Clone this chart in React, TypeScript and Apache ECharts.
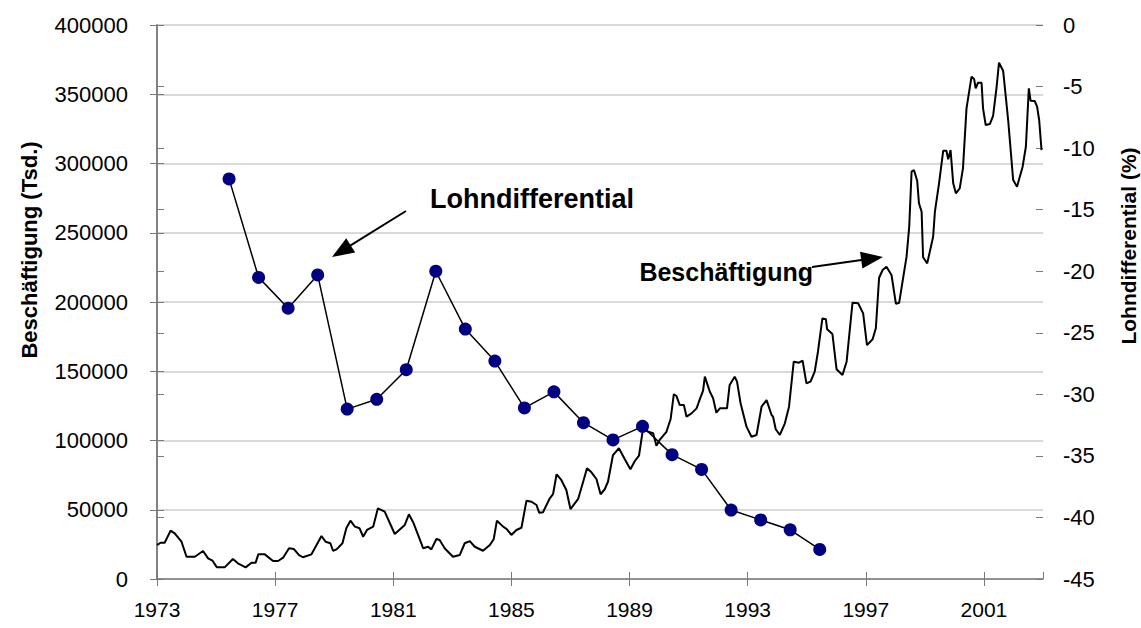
import React, { useEffect, useRef } from "react";
import * as echarts from "echarts";

const START_YEAR = 1973;
const END_YEAR = 2003;

// Beschäftigung (Tsd.) (decimal year, value)
const empYear = [
  1973.0, 1973.12, 1973.26, 1973.46, 1973.6, 1973.83, 1974.0, 1974.28, 1974.56, 1974.73,
  1974.88, 1975.03, 1975.29, 1975.57, 1975.74, 1976.0, 1976.2, 1976.34, 1976.43, 1976.65,
  1976.93, 1977.1, 1977.27, 1977.47, 1977.63, 1977.81, 1977.94, 1978.23, 1978.57, 1978.71,
  1978.87, 1978.96, 1979.08, 1979.28, 1979.41, 1979.55, 1979.7, 1979.86, 1979.98, 1980.11,
  1980.32, 1980.48, 1980.71, 1981.05, 1981.39, 1981.53, 1981.69, 1981.95, 1982.01, 1982.18,
  1982.29, 1982.46, 1982.57, 1982.74, 1983.02, 1983.25, 1983.42, 1983.59, 1983.76, 1984.04,
  1984.27, 1984.4, 1984.51, 1984.72, 1984.85, 1985.0, 1985.17, 1985.34, 1985.51, 1985.68,
  1985.85, 1985.94, 1986.07, 1986.3, 1986.41, 1986.53, 1986.69, 1986.86, 1987.0, 1987.26,
  1987.43, 1987.56, 1987.71, 1987.88, 1988.02, 1988.16, 1988.27, 1988.44, 1988.64, 1988.84,
  1989.03, 1989.18, 1989.32, 1989.4, 1989.46, 1989.63, 1989.8, 1989.91, 1990.02, 1990.25,
  1990.39, 1990.5, 1990.59, 1990.7, 1990.84, 1990.93, 1991.1, 1991.27, 1991.35, 1991.49,
  1991.55, 1991.72, 1991.83, 1991.94, 1992.06, 1992.3, 1992.39, 1992.56, 1992.64, 1992.76,
  1992.96, 1993.13, 1993.3, 1993.47, 1993.64, 1993.81, 1993.86, 1993.95, 1994.09, 1994.26,
  1994.4, 1994.56, 1994.74, 1994.86, 1994.99, 1995.13, 1995.27, 1995.38, 1995.53, 1995.65,
  1995.69, 1995.87, 1996.01, 1996.21, 1996.35, 1996.55, 1996.74, 1996.91, 1997.04, 1997.23,
  1997.34, 1997.45, 1997.57, 1997.7, 1997.87, 1998.02, 1998.13, 1998.38, 1998.47, 1998.55,
  1998.63, 1998.74, 1998.8, 1998.89, 1998.94, 1999.08, 1999.28, 1999.34, 1999.48, 1999.62,
  1999.73, 1999.79, 1999.87, 1999.96, 2000.05, 2000.18, 2000.29, 2000.41, 2000.58, 2000.67,
  2000.72, 2000.8, 2000.92, 2000.97, 2001.06, 2001.2, 2001.31, 2001.43, 2001.51, 2001.65,
  2001.82, 2001.99, 2002.12, 2002.31, 2002.42, 2002.52, 2002.58, 2002.72, 2002.8, 2002.87,
  2002.95,
];
const empValue = [
  24500, 26200, 26200, 34900, 33000, 26900, 16100, 16100, 20200, 14900,
  13200, 8400, 8400, 14400, 11300, 8400, 11800, 11800, 17800, 17800,
  13000, 13000, 15400, 22200, 21700, 17300, 15700, 17800, 31000, 26900,
  25800, 20400, 21400, 25800, 36600, 42100, 37800, 36600, 30500, 35400,
  37800, 51000, 48600, 32500, 39000, 46700, 40200, 25800, 22200, 23300,
  21400, 28900, 28200, 22200, 16100, 17300, 25800, 27400, 23300, 20400,
  24500, 28700, 42100, 37800, 35900, 31800, 35400, 37000, 56500, 55800,
  53400, 47900, 48200, 58300, 61200, 75600, 71500, 64300, 50500, 57800,
  70200, 79900, 77000, 72200, 61200, 64800, 70200, 89500, 94400, 86400,
  79200, 85200, 89000, 100400, 108800, 106300, 105200, 96200, 100400, 106300,
  115300, 133400, 132100, 125600, 125600, 117200, 119600, 123200, 128000, 136000,
  146100, 135200, 130500, 120100, 123200, 123200, 140100, 146100, 142500, 126900,
  110000, 102700, 104000, 124400, 129200, 118400, 117200, 108100, 104000, 112400,
  124400, 156900, 156200, 157600, 141300, 142500, 149700, 164100, 188200, 187500,
  180300, 176900, 151400, 147300, 156900, 199500, 199100, 191800, 168900, 173100,
  181000, 217500, 223100, 225500, 219500, 198600, 199500, 232700, 254400, 294100,
  295300, 287600, 271300, 265200, 232300, 227900, 247100, 265200, 285700, 309200,
  309200, 303000, 309700, 285700, 278500, 282100, 296500, 339800, 362700, 360800,
  354300, 358300, 358300, 339800, 327800, 328500, 334300, 355400, 372800, 367000,
  331400, 288100, 283200, 297700, 312100, 354300, 345300, 345100, 341000, 331400,
  309700,
];

// Lohndifferential (%), annual values
const wageYear = [
  1975, 1976, 1977, 1978, 1979, 1980, 1981, 1982, 1983, 1984, 1985,
  1986, 1987, 1988, 1989, 1990, 1991, 1992, 1993, 1994, 1995,
];
const wageValue = [
  -12.5, -20.5, -23.0, -20.3, -31.2, -30.4, -28.0, -20.0, -24.7, -27.3, -31.1,
  -29.8, -32.3, -33.7, -32.6, -34.9, -36.1, -39.4, -40.2, -41.0, -42.6,
];
const WAGE_IN_YEAR = 0.44; // annual values sit mid-year on the monthly axis

const FONT = "'Liberation Sans', Arial, sans-serif";
const AXIS_COLOR = "#7a7a7a";

function arrow(x1: number, y1: number, x2: number, y2: number) {
  const L = 22;
  const W = 8.5;
  const dx = x2 - x1;
  const dy = y2 - y1;
  const len = Math.sqrt(dx * dx + dy * dy);
  const ux = dx / len;
  const uy = dy / len;
  const bx = x2 - ux * L;
  const by = y2 - uy * L;
  const px = -uy;
  const py = ux;
  return [
    {
      type: "line",
      shape: { x1, y1, x2: bx + ux * 2, y2: by + uy * 2 },
      style: { stroke: "#000", lineWidth: 2 },
      z: 10,
    },
    {
      type: "polygon",
      shape: {
        points: [
          [x2, y2],
          [bx + px * W, by + py * W],
          [bx - px * W, by - py * W],
        ],
      },
      style: { fill: "#000" },
      z: 10,
    },
  ];
}

export default function App() {
  const ref = useRef<HTMLDivElement>(null);

  useEffect(() => {
    if (!ref.current) return;
    const chart = echarts.init(ref.current, undefined, { renderer: "svg" });

    const empData = empYear.map((y, i) => [y - START_YEAR, empValue[i]]);
    const wageData = wageYear.map((y, i) => [y - START_YEAR + WAGE_IN_YEAR, wageValue[i]]);
    const span = END_YEAR - START_YEAR;

    const option: any = {
      animation: false,
      backgroundColor: "#fff",
      grid: { left: 157, right: 98, top: 25, bottom: 49, containLabel: false },
      xAxis: [
        {
          type: "value",
          min: 0,
          max: span,
          interval: 4,
          position: "bottom",
          axisLine: { show: true, onZero: false, lineStyle: { color: AXIS_COLOR, width: 1.5 } },
          axisTick: { show: true, length: 7, lineStyle: { color: AXIS_COLOR, width: 1 } },
          axisLabel: {
            formatter: (v: number) => String(START_YEAR + v),
            showMaxLabel: false,
            margin: 20,
            fontSize: 21,
            color: "#000",
            fontFamily: FONT,
          },
          splitLine: { show: false },
        },
        {
          type: "value",
          min: 0,
          max: span,
          interval: 4,
          position: "bottom",
          axisLine: { show: false, onZero: false },
          axisTick: { show: true, inside: true, length: 7, lineStyle: { color: AXIS_COLOR, width: 1 } },
          axisLabel: { show: false },
          splitLine: { show: false },
        },
      ],
      yAxis: [
        {
          type: "value",
          position: "left",
          min: 0,
          max: 400000,
          interval: 50000,
          axisLine: { show: true, lineStyle: { color: AXIS_COLOR, width: 1.5 } },
          axisTick: { show: true, length: 7, lineStyle: { color: AXIS_COLOR, width: 1 } },
          axisLabel: {
            margin: 29,
            fontSize: 22,
            color: "#000",
            fontFamily: FONT,
            formatter: (v: number) => String(v),
          },
          splitLine: { show: true, lineStyle: { color: "#d9d9d9", width: 2 } },
        },
        {
          type: "value",
          position: "right",
          min: -45,
          max: 0,
          interval: 5,
          axisLine: { show: true, lineStyle: { color: AXIS_COLOR, width: 1.5 } },
          axisTick: { show: true, length: 7, lineStyle: { color: AXIS_COLOR, width: 1 } },
          axisLabel: {
            margin: 20,
            fontSize: 22,
            color: "#000",
            fontFamily: FONT,
            formatter: (v: number) => String(v),
          },
          splitLine: { show: false },
        },
        {
          type: "value",
          position: "left",
          min: 0,
          max: 400000,
          interval: 50000,
          axisLine: { show: false },
          axisTick: { show: true, inside: true, length: 7, lineStyle: { color: AXIS_COLOR, width: 1 } },
          axisLabel: { show: false },
          splitLine: { show: false },
        },
        {
          type: "value",
          position: "right",
          min: -45,
          max: 0,
          interval: 5,
          axisLine: { show: false },
          axisTick: { show: true, inside: true, length: 7, lineStyle: { color: AXIS_COLOR, width: 1 } },
          axisLabel: { show: false },
          splitLine: { show: false },
        },
      ],
      series: [
        {
          name: "Beschäftigung",
          type: "line",
          xAxisIndex: 0,
          yAxisIndex: 0,
          data: empData,
          symbol: "none",
          showSymbol: false,
          lineStyle: { color: "#000", width: 2 },
          z: 2,
        },
        {
          name: "Lohndifferential",
          type: "line",
          xAxisIndex: 0,
          yAxisIndex: 1,
          data: wageData,
          symbol: "circle",
          symbolSize: 13,
          itemStyle: { color: "#000080", borderWidth: 0 },
          lineStyle: { color: "#000", width: 1.5 },
          z: 3,
        },
      ],
      graphic: [
        {
          type: "text",
          x: 29,
          y: 250,
          rotation: Math.PI / 2,
          style: {
            text: "Beschäftigung (Tsd.)",
            fontSize: 22,
            fontWeight: "bold",
            fontFamily: FONT,
            fill: "#000",
            align: "center",
            verticalAlign: "middle",
          },
        },
        {
          type: "text",
          x: 1128,
          y: 246,
          rotation: Math.PI / 2,
          style: {
            text: "Lohndifferential (%)",
            fontSize: 21,
            fontWeight: "bold",
            fontFamily: FONT,
            fill: "#000",
            align: "center",
            verticalAlign: "middle",
          },
        },
        {
          type: "text",
          x: 430,
          y: 199,
          style: {
            text: "Lohndifferential",
            fontSize: 27,
            fontWeight: "bold",
            fontFamily: FONT,
            fill: "#000",
            align: "left",
            verticalAlign: "middle",
          },
          z: 10,
        },
        {
          type: "text",
          x: 813,
          y: 272,
          style: {
            text: "Beschäftigung",
            fontSize: 25,
            fontWeight: "bold",
            fontFamily: FONT,
            fill: "#000",
            align: "right",
            verticalAlign: "middle",
          },
          z: 10,
        },
        ...arrow(406, 211, 332, 257),
        ...arrow(812, 267, 883, 257),
      ],
    };

    chart.setOption(option);
    return () => chart.dispose();
  }, []);

  return (
    <div
      ref={ref}
      style={{ position: "fixed", left: 0, top: 0, width: 1141, height: 628 }}
    />
  );
}
